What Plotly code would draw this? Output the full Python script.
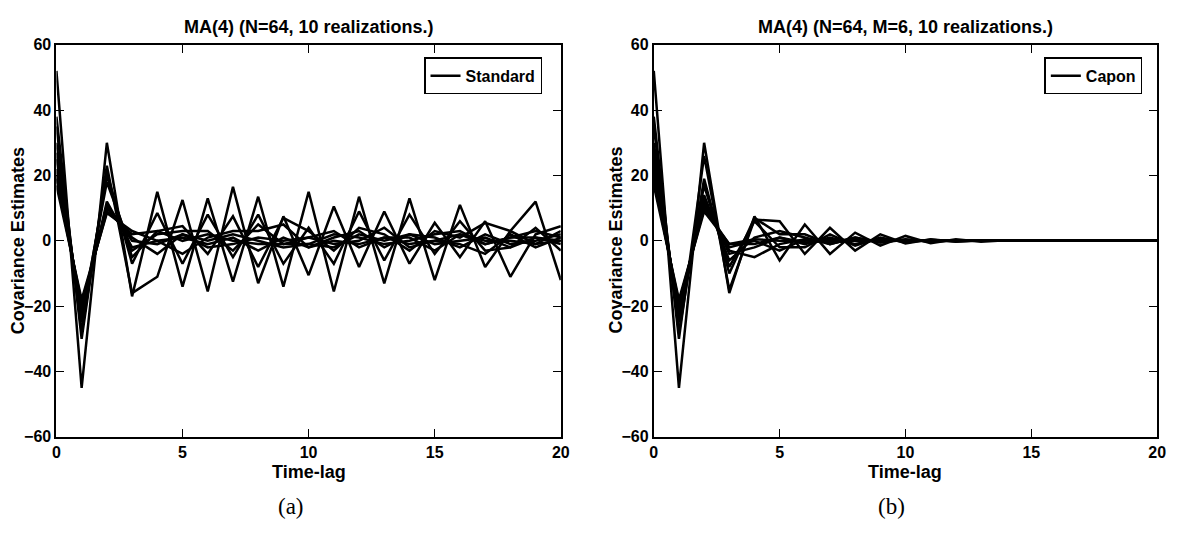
import plotly.graph_objects as go

lags = list(range(21))

standard = [
    [52, -45, 30, -17, 15, -14, 13, -12.5, 13.5, -14, 15, -15.5, 13.5, -13, 13, -12, 11, -8, 3, 12, -12],
    [38, -30, 23, -16, -11, 12.5, -15.5, 16.5, -13, 7.5, -10.5, 10.5, -8, 9, -7, 5.5, -5, 6, -11, 2, 4.5],
    [35, -28, 21, -7, 8.5, -7, 8, -5, 8, -7, 4, -7, 9, -6, 8, -4, 6, -3, -2, 4, -3],
    [30, -25, 20, -5, 3, 4.5, -4, 7.5, -8, 7, 3, -3, 4, 2, -3, 3, 1, 5.5, 3, -1, 3],
    [27, -23, 18, -3, 2, 3, 3, -3, 5, -1, 1, 3, -2, 1, 1, -3, 2, -1, 1, 3, 1],
    [25, -22, 12, -2, 0, -4, 1, 3, 3, 5, -2, 1, 3, -2, 2, 1, -2, 2, -1, 0, 2],
    [22, -21, 11, 0, -1, 2, 0, 2, 0, -2, -1, 2, 1, -1, 0, 2, 3, -1, 1, 1, 0],
    [20, -20, 10, 1, -4, 2, -2, -1, 1, 0, 1, -1, 0, 4, -2, 0, -1, -4, 2, -2, 1],
    [19, -19, 9, 2, 3, 0, 2, 0, -1, -1, -1, -2, 2, 0, 2, -1, 0, 1, -2, 1, -1],
    [17, -18, 8.5, 3, 0, 1, -1, 1, -3, 1, -2, 0, -1, 1, -1, 0, 2, 0, 0, -1, 0],
]

capon = [
    [52, -45, 30, -16, 7.5, -6, 5, -4, 2.5, -1.5, 1.5, -0.7, 0.5, -0.3, 0.2, 0, 0, 0, 0, 0, 0],
    [38, -30, 26, -15, 6.5, 6, -4, 4, -3, 2, -0.8, 0.5, -0.3, 0.2, 0.1, 0, 0, 0, 0, 0, 0],
    [35, -28, 19, -10, 7, 2, 2, -1, 1, -0.5, 0.5, -0.3, 0.2, 0, 0, 0, 0, 0, 0, 0, 0],
    [30, -25, 17, -8, 6, -2, -2, 2, -1.5, 1, -0.5, 0.3, -0.2, 0.1, 0, 0, 0, 0, 0, 0, 0],
    [27, -23, 14, -6, 1, 3, 1, -1, 1, -0.5, 0.3, -0.2, 0.1, 0, 0, 0, 0, 0, 0, 0, 0],
    [25, -22, 13, -4, -2, 1, -1, 1, -1, 0.5, 0, 0, 0, 0, 0, 0, 0, 0, 0, 0, 0],
    [22, -21, 12, -3, -5, -1, 0.5, 0, 0.5, 0, 0, 0, 0, 0, 0, 0, 0, 0, 0, 0, 0],
    [20, -20, 11, -2, 0, -3, 0.5, -0.5, 0, 0, 0, 0, 0, 0, 0, 0, 0, 0, 0, 0, 0],
    [19, -19, 10, -1, 0.5, 0, 0, 0.5, 0, 0, 0, 0, 0, 0, 0, 0, 0, 0, 0, 0, 0],
    [17, -18, 9, -1, -1, 1, -0.5, 0, 0, 0, 0, 0, 0, 0, 0, 0, 0, 0, 0, 0, 0],
]

titles = ["MA(4) (N=64, 10 realizations.)", "MA(4) (N=64, M=6, 10 realizations.)"]
legend_names = ["Standard", "Capon"]
captions = ["(a)", "(b)"]
x_title = "Time-lag"
y_title = "Covariance Estimates"

W, H = 1182, 533
SANS = "Liberation Sans, Arial, Helvetica, sans-serif"

fig = go.Figure()

for i, (series, name) in enumerate(zip([standard, capon], legend_names)):
    xa = "x" if i == 0 else "x2"
    ya = "y" if i == 0 else "y2"
    lg = "legend" if i == 0 else "legend2"
    for k, vals in enumerate(series):
        fig.add_trace(go.Scatter(
            x=lags, y=vals, mode="lines", xaxis=xa, yaxis=ya,
            line=dict(color="black", width=2.5),
            name=name, showlegend=(k == 0), legend=lg, hoverinfo="skip",
        ))

ydom = [(533 - 443) / H, (533 - 38) / H]
xdoms = [[53 / W, 563 / W], [657 / W, 1166 / W]]

axis_common = dict(
    showline=True, linecolor="black", linewidth=2, mirror="ticks",
    ticks="inside", ticklen=8, tickwidth=1, tickcolor="black",
    showgrid=False, zeroline=False,
    tickfont=dict(family=SANS, size=16, color="black", weight="bold"),
)

legend_common = dict(
    xanchor="right", yanchor="top", bordercolor="black", borderwidth=1.5, bgcolor="white",
    font=dict(family=SANS, size=16, color="black", weight="bold"), itemwidth=30,
)

fig.update_layout(
    width=W, height=H,
    margin=dict(l=0, r=0, t=0, b=0),
    paper_bgcolor="white", plot_bgcolor="white",
    xaxis=dict(domain=xdoms[0], range=[0, 20], tickvals=[0, 5, 10, 15, 20], anchor="y", **axis_common),
    yaxis=dict(domain=ydom, range=[-60, 60], tickvals=[-60, -40, -20, 0, 20, 40, 60], anchor="x", **axis_common),
    xaxis2=dict(domain=xdoms[1], range=[0, 20], tickvals=[0, 5, 10, 15, 20], anchor="y2", **axis_common),
    yaxis2=dict(domain=ydom, range=[-60, 60], tickvals=[-60, -40, -20, 0, 20, 40, 60], anchor="x2", **axis_common),
    legend=dict(x=544 / W, y=1 - 51 / H, **legend_common),
    legend2=dict(x=1151 / W, y=1 - 51 / H, **legend_common),
)

annotations = []
for i in range(2):
    cx = (xdoms[i][0] + xdoms[i][1]) / 2
    annotations.append(dict(text=titles[i], x=cx, y=1 - 20 / H, xref="paper", yref="paper",
                            xanchor="center", yanchor="middle", showarrow=False,
                            font=dict(family=SANS, size=18, color="black", weight="bold")))
    annotations.append(dict(text=x_title, x=cx, y=1 - 479 / H, xref="paper", yref="paper",
                            xanchor="center", yanchor="middle", showarrow=False,
                            font=dict(family=SANS, size=18, color="black", weight="bold")))
    annotations.append(dict(text=y_title, x=(15 if i == 0 else 619) / W, y=1 - 240 / H,
                            xref="paper", yref="paper", textangle=-90,
                            xanchor="center", yanchor="middle", showarrow=False,
                            font=dict(family=SANS, size=18, color="black", weight="bold")))
    annotations.append(dict(text=captions[i], x=(290 if i == 0 else 897) / W, y=1 - 515 / H,
                            xref="paper", yref="paper", xanchor="center", yanchor="middle",
                            showarrow=False,
                            font=dict(family="Liberation Serif, DejaVu Serif, serif", size=23, color="black")))
fig.update_layout(annotations=annotations)

fig.write_html("out.html")
